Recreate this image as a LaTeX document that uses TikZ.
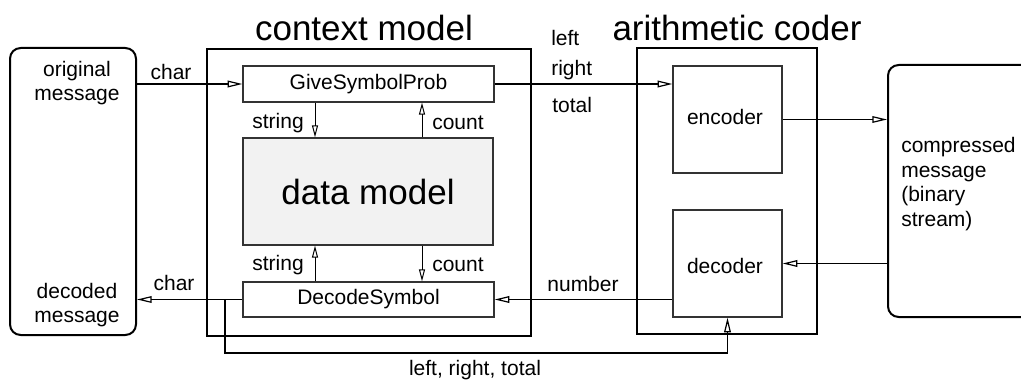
\documentclass[tikz,border=0pt]{standalone}
\usepackage{fontspec}
\setmainfont{Liberation Sans}
\usetikzlibrary{arrows.meta,fit,calc}
\begin{document}
\begin{tikzpicture}[x=0.75pt,y=-0.75pt,
  outer/.style={draw, line width=1.5pt, inner sep=0pt},
  inner/.style={draw=black!80, line width=0.9pt, inner sep=0pt},
  rbox/.style={draw, line width=1.5pt, rounded corners=8pt, inner sep=0pt},
  sm/.style={font=\fontsize{15.75}{18.9}\selectfont, inner sep=0pt},
  big/.style={font=\fontsize{26.25}{30}\selectfont, inner sep=0pt},
  conn/.style={line width=1.2pt, -{Triangle[open, length=11pt, width=5pt, line width=0.9pt]}},
  thin/.style={line width=0.75pt, -{Triangle[open, length=9pt, width=4.5pt, line width=0.75pt]}},
  wire/.style={line width=1.2pt}]
\useasboundingbox (0,0) rectangle (1021,381);
\clip (0,0) rectangle (1021,381);
% boxes
\node[rbox, fit={(10,48) (136,335)}] (src) {};
\node[rbox, fit={(888,65) (1060,317)}] (cmp) {};
\node[outer, fit={(207,49) (531,336)}] (ctx) {};
\node[outer, fit={(637,48) (817,334)}] (ari) {};
\node[inner, fit={(243,66) (494,102)}] (gsp) {};
\node[inner, fit={(243,282) (494,317)}] (ds) {};
\node[inner, fill=black!5, fit={(243,138) (493,245)}] (dm) {};
\node[inner, fit={(673,66) (782,173)}] (enc) {};
\node[inner, fit={(673,210) (782,317)}] (dec) {};
% texts in boxes
\node[sm] (gspt) at (gsp) {GiveSymbolProb};
\node[sm] (dst) at (ds) {DecodeSymbol};
\node[big] (dmt) at (dm) {data model};
\node[sm] (enct) at (725,117) {encoder};
\node[sm] (dect) at (725,266) {decoder};
\node[big] (ctxt) at (364,28) {context model};
\node[big] (arit) at (737,28) {arithmetic coder};
\node[sm, align=center] (srct1) at (77,83) {original\\[-1.5pt]message};
\node[sm, align=center] (srct2) at (77,305) {decoded\\[-1.5pt]message};
\node[sm, align=left, anchor=west] (cmpt) at (901,184) {compressed\\[-0.5pt]message\\[-0.5pt](binary\\[-0.5pt]stream)};
% coordinates
\coordinate (sx) at (315,0);
\coordinate (cx) at (422,0);
\coordinate (br) at (225,299.5);
\coordinate (bb) at (225,353);
% connectors
\draw[conn] (src.east |- gsp.west) -- (gsp.west);
\draw[conn] (gsp.east) -- (gsp.east -| enc.west);
\draw[conn] (enc.east) -- (enc.east -| cmp.west);
\draw[conn] (cmp.west |- dec.east) -- (dec.east);
\draw[conn] (dec.west |- ds.east) -- (ds.east);
\draw[conn] (ds.west) -- (ds.west -| src.east);
\draw[conn] (br) -- (bb) -| (dec.south);
\draw[thin] (gsp.south -| sx) -- (dm.north -| sx);
\draw[thin] (dm.north -| cx) -- (gsp.south -| cx);
\draw[thin] (ds.north -| sx) -- (dm.south -| sx);
\draw[thin] (dm.south -| cx) -- (ds.north -| cx);
% labels
\node[sm] (l1) at (171,72) {char};
\node[sm] (l2) at (174,283) {char};
\node[sm, anchor=west] (l3) at (551,38) {left};
\node[sm, anchor=west] (l4) at (551,70) {right};
\node[sm, anchor=west] (l5) at (552,105) {total};
\node[sm] (l6) at (583,284) {number};
\node[sm] (l7) at (475,370) {left, right, total};
\node[sm, anchor=east] (l8) at (304,123) {string};
\node[sm, anchor=west] (l9) at (432,123) {count};
\node[sm, anchor=east] (l10) at (304,265) {string};
\node[sm, anchor=west] (l11) at (432,265) {count};
\end{tikzpicture}
\end{document}
